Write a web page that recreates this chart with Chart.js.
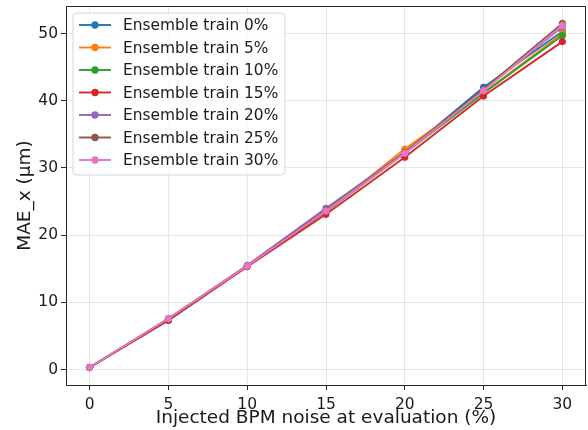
<!DOCTYPE html>
<html>
<head>
<meta charset="utf-8">
<script src="https://cdn.jsdelivr.net/npm/chart.js@4/dist/chart.umd.min.js"></script>
<style>
  html, body { margin: 0; padding: 0; background: #fff; overflow: hidden; }
  /* un peu plus large que la fenetre : Chart.js garde ~5px a droite */
  #zone { width: 591px; height: 430px; }
</style>
</head>
<body>
<div id="zone"><canvas id="graphMae"></canvas></div>
<script>
// bruit injecte a l'evaluation (%)
var bruit = [0, 5, 10, 15, 20, 25, 30];
var xTicks = [0, 5, 10, 15, 20, 25, 30];
var yTicks = [0, 10, 20, 30, 40, 50];

// MAE_x (um) pour chaque ensemble
var train0  = [0.3, 7.5, 15.4, 23.6, 32.3, 42.0, 50.3];
var train5  = [0.3, 7.5, 15.4, 23.5, 32.8, 41.2, 50.0];
var train10 = [0.3, 7.5, 15.4, 23.5, 32.2, 41.1, 49.7];
var train15 = [0.3, 7.3, 15.3, 23.1, 31.6, 40.7, 48.8];
var train20 = [0.3, 7.6, 15.5, 24.0, 32.3, 41.6, 51.0];
var train25 = [0.3, 7.5, 15.4, 23.7, 32.3, 41.7, 51.5];
var train30 = [0.3, 7.6, 15.4, 23.6, 32.2, 41.5, 51.2];

var series = [
    { label: 'Ensemble train 0%',  data: train0,  color: '#1f77b4' },
    { label: 'Ensemble train 5%',  data: train5,  color: '#ff7f0e' },
    { label: 'Ensemble train 10%', data: train10, color: '#2ca02c' },
    { label: 'Ensemble train 15%', data: train15, color: '#d62728' },
    { label: 'Ensemble train 20%', data: train20, color: '#9467bd' },
    { label: 'Ensemble train 25%', data: train25, color: '#8c564b' },
    { label: 'Ensemble train 30%', data: train30, color: '#e377c2' }
];

var police = "'DejaVu Sans', sans-serif";

var datasets = [];
for (var i in series) {
    var pts = [];
    for (var j in bruit)
        pts.push({ x: bruit[j], y: series[i].data[j] });
    datasets.push({
        label: series[i].label,
        data: pts,
        borderColor: series[i].color,
        backgroundColor: series[i].color,
        pointBackgroundColor: series[i].color,
        pointBorderColor: series[i].color,
        borderWidth: 1.9,
        pointRadius: 3.2,
        pointBorderWidth: 1,
        order: series.length - i   // le dernier dessine par dessus, comme matplotlib
    });
}

// cadre haut/droite + legende dans la zone du graphe
var cadreLegende = {
    id: 'cadreLegende',
    afterDraw: function(chart) {
        var ctx = chart.ctx;
        var a = chart.chartArea;
        ctx.save();
        ctx.strokeStyle = '#262626';
        ctx.lineWidth = 1;
        ctx.strokeRect(a.left + 0.5, a.top + 0.5, a.right - a.left - 1, a.bottom - a.top);

        var bx = 73, by = 13, bw = 212, bh = 162, r = 4;
        ctx.beginPath();
        ctx.moveTo(bx + r, by);
        ctx.arcTo(bx + bw, by, bx + bw, by + bh, r);
        ctx.arcTo(bx + bw, by + bh, bx, by + bh, r);
        ctx.arcTo(bx, by + bh, bx, by, r);
        ctx.arcTo(bx, by, bx + bw, by, r);
        ctx.closePath();
        ctx.fillStyle = 'rgba(255,255,255,0.8)';
        ctx.fill();
        ctx.strokeStyle = '#d6d6d6';
        ctx.stroke();

        ctx.font = '15.4px ' + police;
        ctx.textBaseline = 'middle';
        ctx.textAlign = 'left';
        for (var k = 0; k < series.length; k++) {
            var y = 25 + k * 22.5;
            ctx.strokeStyle = series[k].color;
            ctx.lineWidth = 1.9;
            ctx.beginPath();
            ctx.moveTo(79, y);
            ctx.lineTo(111, y);
            ctx.stroke();
            ctx.fillStyle = series[k].color;
            ctx.beginPath();
            ctx.arc(95, y, 3.7, 0, 2 * Math.PI);
            ctx.fill();
            ctx.fillStyle = '#1a1a1a';
            ctx.fillText(series[k].label, 123, y + 1);
        }
        ctx.restore();
    }
};

var graphTarget = document.getElementById('graphMae');
var myGraph = new Chart(graphTarget, {
    type: 'line',
    data: { datasets: datasets },
    plugins: [cadreLegende],
    options: {
        responsive: true,
        maintainAspectRatio: false,
        animation: false,
        layout: { padding: { top: 6, right: 0, left: 0, bottom: 0 } },
        plugins: {
            legend: { display: false },
            tooltip: { enabled: false }
        },
        scales: {
            x: {
                type: 'linear',
                min: -1.5,
                max: 31.5,
                afterBuildTicks: function(scale) {
                    scale.ticks = xTicks.map(function(v) { return { value: v }; });
                },
                afterFit: function(scale) {
                    scale.height = 45;
                    scale.paddingLeft = 0;
                    scale.paddingRight = 0;
                },
                grid: {
                    color: 'rgba(176,176,176,0.3)',
                    tickColor: '#262626',
                    tickLength: 5,
                    lineWidth: 1
                },
                border: { color: '#262626', width: 1 },
                ticks: {
                    color: '#1a1a1a',
                    padding: 6,
                    maxRotation: 0,
                    font: { family: police, size: 15.5 }
                },
                title: {
                    display: true,
                    text: 'Injected BPM noise at evaluation (%)',
                    color: '#1a1a1a',
                    padding: { top: 0, bottom: 1 },
                    font: { family: police, size: 18.5 }
                }
            },
            y: {
                type: 'linear',
                min: -2.3,
                max: 54.1,
                afterBuildTicks: function(scale) {
                    scale.ticks = yTicks.map(function(v) { return { value: v }; });
                },
                afterFit: function(scale) {
                    scale.width = 66;
                    scale.paddingTop = 0;
                    scale.paddingBottom = 0;
                },
                grid: {
                    color: 'rgba(176,176,176,0.3)',
                    tickColor: '#262626',
                    tickLength: 5,
                    lineWidth: 1
                },
                border: { color: '#262626', width: 1 },
                ticks: {
                    color: '#1a1a1a',
                    padding: 3,
                    font: { family: police, size: 15.5 }
                },
                title: {
                    display: true,
                    text: 'MAE_x (µm)',
                    color: '#1a1a1a',
                    padding: { top: 14, bottom: 0 },
                    font: { family: police, size: 18.5 }
                }
            }
        }
    }
});
</script>
</body>
</html>
